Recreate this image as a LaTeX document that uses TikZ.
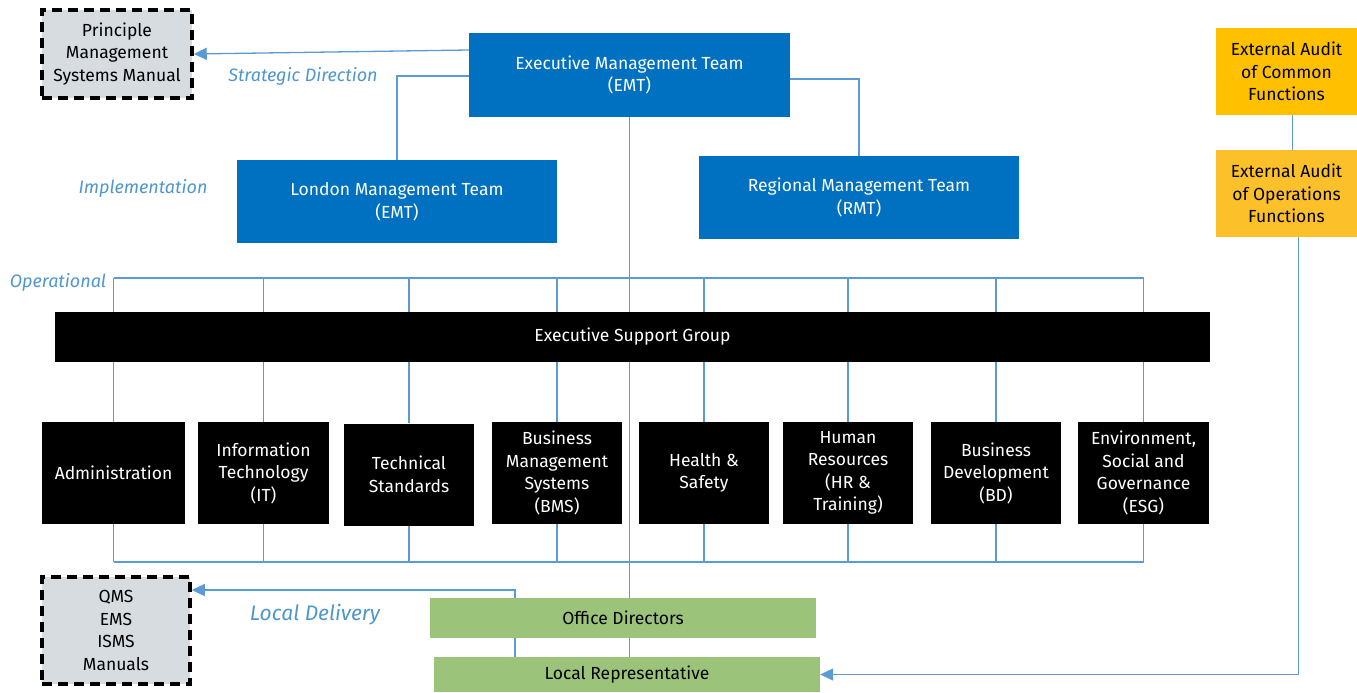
\documentclass[tikz,border=0pt]{standalone}
\usepackage{fontspec}
\setmainfont{Fira Sans}
\usetikzlibrary{arrows.meta,backgrounds}
\definecolor{emtblue}{RGB}{0,112,192}
\definecolor{linkblue}{RGB}{91,155,213}
\definecolor{lblblue}{RGB}{79,150,205}
\definecolor{docgrey}{RGB}{214,220,224}
\definecolor{odgreen}{RGB}{155,195,122}
\definecolor{auditA}{RGB}{255,192,0}
\definecolor{auditB}{RGB}{252,193,42}
\begin{document}
\begin{tikzpicture}[x=1pt,y=-1pt,
    every node/.style={inner sep=0pt,align=center,font=\fontsize{17.5}{22.5}\selectfont},
    team/.style={fill=emtblue,text=white,minimum width=320pt,minimum height=84pt},
    func/.style={fill=black,text=white,minimum width=130pt,minimum height=102pt},
    docbox/.style={fill=docgrey,draw=black,line width=3.5pt,dash pattern=on 10pt off 6pt},
    local/.style={fill=odgreen,minimum width=386pt},
    audit/.style={minimum width=141pt,minimum height=87pt},
    link/.style={draw=linkblue,line width=1.3pt},
    tip/.style={-{Triangle[length=13pt,width=12pt]}},
    lbl/.style={text=lblblue,font=\itshape\fontsize{18}{22}\selectfont}]
    \useasboundingbox (0,0) rectangle (1357,693);

    \node[docbox,minimum width=150pt,minimum height=88pt] (pmsm) at (117,54) {Principle\\Management\\Systems Manual};
    \node[team,minimum width=321pt] (emt) at (629.5,75) {Executive Management Team\\(EMT)};
    \node[team,minimum height=83pt] (lmt) at (397,201.5) {London Management Team\\(EMT)};
    \node[team,minimum height=83pt] (rmt) at (859,197.5) {Regional Management Team\\(RMT)};
    \node[audit,fill=auditA] (eac) at (1286.5,71.5) {External Audit\\of Common\\Functions};
    \node[audit,fill=auditB] (eao) at (1286.5,193.5) {External Audit\\of Operations\\Functions};

    \node[fill=black,text=white,minimum width=1155pt,minimum height=50pt] (esg) at (632.5,337) {Executive Support Group};

    \node[func,minimum width=143pt] (adm) at (113.5,473) {Administration};
    \node[func,minimum width=131pt] (it) at (263.5,473) {Information\\Technology\\(IT)};
    \node[func] (ts) at (409,474.5) {Technical\\Standards};
    \node[func] (bms) at (557,473) {Business\\Management\\Systems\\(BMS)};
    \node[func] (hs) at (704,473) {Health \&\\Safety};
    \node[func] (hr) at (848,473) {Human\\Resources\\(HR \&\\Training)};
    \node[func] (bd) at (996,473) {Business\\Development\\(BD)};
    \node[func,minimum width=131pt] (esgf) at (1143.5,473) {Environment,\\Social and\\Governance\\(ESG)};

    \node[docbox,minimum width=148pt,minimum height=107pt] (qms) at (116,630.5) {QMS\\EMS\\ISMS\\Manuals};
    \node[local,minimum height=40pt] (od) at (623,618) {Office Directors};
    \node[local,minimum height=35pt] (lr) at (627,674.5) {Local Representative};

    \node[lbl] (strat) at (303,76) {Strategic Direction};
    \node[lbl] (impl) at (143,188) {Implementation};
    \node[lbl] (oper) at (58,282) {Operational};
    \node[lbl,font=\itshape\fontsize{21}{24}\selectfont] (deliv) at (315,615) {Local Delivery};

    \coordinate (bustop) at (0,278);
    \coordinate (busbot) at (0,562);
    \coordinate (ldx) at (515,590);

    \begin{scope}[on background layer]
        \draw[link,tip] ([yshift=25pt]emt.west) -- (pmsm.east);
        \draw[link] ([yshift=-1pt]emt.west) -| (lmt.north);
        \draw[link] ([yshift=-4pt]emt.east) -| (rmt.north);
        \draw[link] (emt.south) -- (emt.south |- od.north);
        \draw[link] (od.south -| emt.south) -- (lr.north -| emt.south);
        \draw[link] (adm |- bustop) -- (esgf |- bustop);
        \draw[link] (adm |- busbot) -- (esgf |- busbot);
        \foreach \f in {adm,it,ts,bms,hs,hr,bd,esgf} {
            \draw[link] (\f |- bustop) -- (\f.north);
            \draw[link] (\f.south) -- (\f |- busbot);
        }
        \draw[link,tip] (od.north -| ldx) -- (ldx) -- (qms.east |- ldx);
        \draw[link] (od.south -| ldx) -- (lr.north -| ldx);
        \draw[link] ([xshift=6pt]eac.south) -- ([xshift=6pt]eao.north);
        \draw[link,tip] ([xshift=12pt]eao.south) |- (lr.east);
    \end{scope}
\end{tikzpicture}
\end{document}
